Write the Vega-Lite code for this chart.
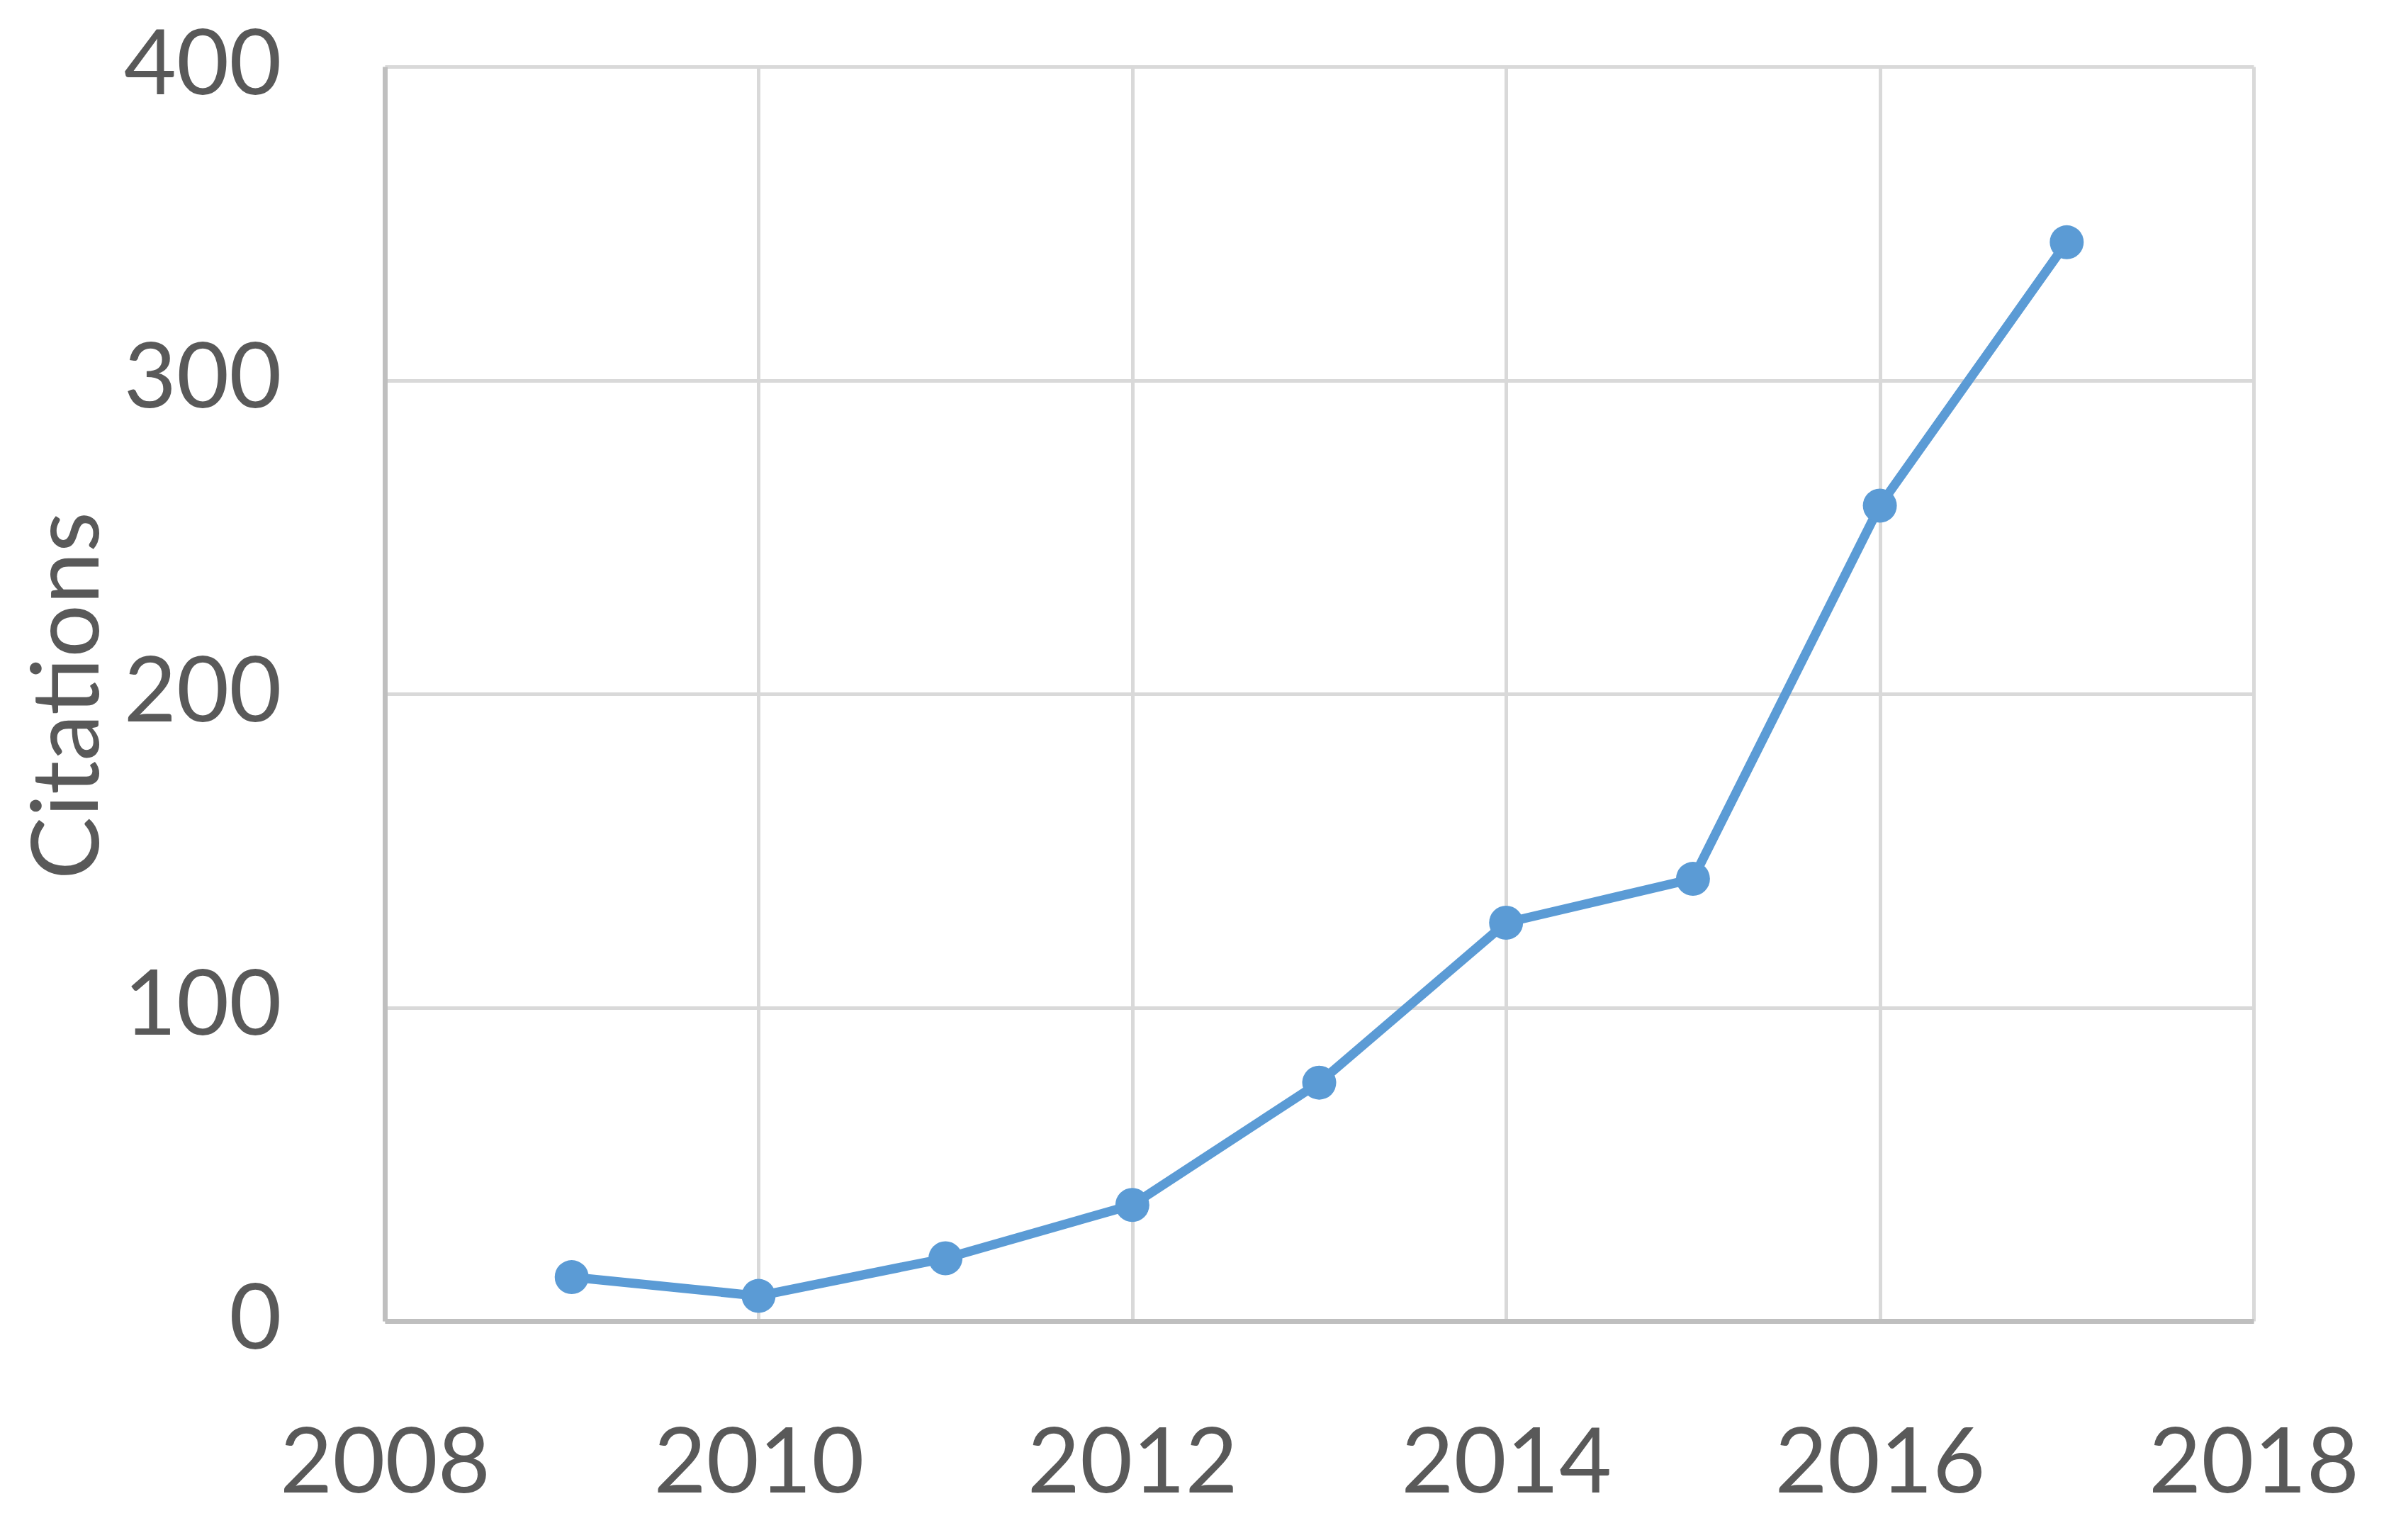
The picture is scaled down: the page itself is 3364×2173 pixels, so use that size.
{
  "$schema": "https://vega.github.io/schema/vega-lite/v6.json",
  "width": 2637,
  "height": 1770,
  "autosize": {"type": "none"},
  "padding": {"left": 543, "top": 94, "right": 184, "bottom": 309},
  "background": "white",
  "config": {
    "view": {"stroke": null},
    "font": "Lato",
    "axis": {
      "labelFont": "Lato",
      "titleFont": "Lato",
      "labelColor": "#595959",
      "titleColor": "#595959",
      "labelFontSize": 128,
      "titleFontSize": 132,
      "titleFontWeight": "normal",
      "labelLimit": 0,
      "gridColor": "#d9d9d9",
      "gridWidth": 5,
      "domainColor": "#bfbfbf",
      "domainWidth": 7,
      "ticks": false
    }
  },
  "data": {
    "values": [
      {"year": 2009, "citations": 14},
      {"year": 2010, "citations": 8},
      {"year": 2011, "citations": 20},
      {"year": 2012, "citations": 37},
      {"year": 2013, "citations": 76},
      {"year": 2014, "citations": 127},
      {"year": 2015, "citations": 141},
      {"year": 2016, "citations": 260},
      {"year": 2017, "citations": 344}
    ]
  },
  "encoding": {
    "x": {
      "field": "year",
      "type": "quantitative",
      "scale": {"domain": [2008, 2018], "nice": false, "zero": false},
      "axis": {
        "title": null,
        "values": [2008, 2010, 2012, 2014, 2016, 2018],
        "format": "d",
        "labelPadding": 140,
        "labelFlush": false,
        "labelOverlap": false
      }
    },
    "y": {
      "field": "citations",
      "type": "quantitative",
      "scale": {"domain": [0, 400], "nice": false},
      "axis": {
        "title": "Citations",
        "values": [0, 100, 200, 300, 400],
        "labelPadding": 146,
        "titleX": -405,
        "titleY": 887,
        "titleAngle": -90,
        "titleAlign": "center",
        "titleBaseline": "alphabetic",
        "labelFlush": false,
        "labelOverlap": false
      }
    }
  },
  "layer": [
    {"mark": {"type": "line", "color": "#5b9bd5", "strokeWidth": 13}},
    {"mark": {"type": "point", "filled": true, "opacity": 1, "color": "#5b9bd5", "size": 2300, "shape": "circle"}}
  ]
}
